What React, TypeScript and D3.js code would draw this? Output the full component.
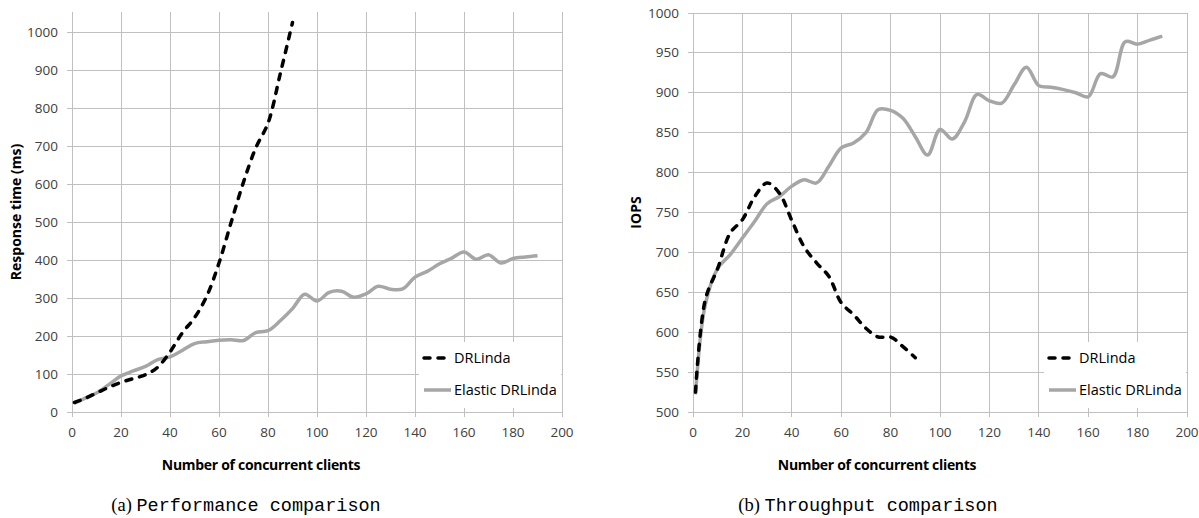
import * as d3 from "d3";
import { useEffect, useRef } from "react";

// clients on the x axis
const clientsDR = [1, 5, 10, 15, 20, 25, 30, 35, 40, 45, 50, 55, 60, 65, 70, 75, 80, 85, 90];
const clientsElastic = [
    1, 5, 10, 15, 20, 25, 30, 35, 40, 45, 50, 55, 60, 65, 70, 75, 80, 85, 90, 95,
    100, 105, 110, 115, 120, 125, 130, 135, 140, 145, 150, 155, 160, 165, 170, 175, 180, 185, 190
];

// (a) response time, ms
const responseDR = [25, 35, 50, 65, 78, 88, 98, 118, 158, 208, 248, 305, 392, 500, 605, 695, 760, 890, 1025];
const responseElastic = [
    23, 35, 50, 72, 95, 108, 120, 138, 145, 162, 180, 185, 189, 190, 188, 209, 214, 240, 272, 310,
    292, 315, 318, 302, 311, 331, 323, 324, 355, 370, 390, 405, 421, 402, 414, 392, 404, 408, 411
];

// (b) throughput, IOPS
const iopsDR = [525, 641, 680, 724, 741, 770, 787, 774, 740, 707, 687, 670, 637, 622, 605, 594, 594, 582, 568];
const iopsElastic = [
    522, 635, 680, 697, 718, 739, 761, 770, 783, 791, 787, 808, 831, 837, 850, 879, 878, 868, 845, 822,
    854, 842, 864, 898, 890, 887, 910, 932, 909, 907, 904, 900, 895, 924, 920, 964, 961, 966, 971
];

const seriesNames = ["DRLinda", "Elastic DRLinda"];

const GRID = "#c0c0c0";
const GREY = "#a6a6a6";
const TEXT = "#404040";
const FONT = "'Open Sans', 'Noto Sans', sans-serif";

const Panel = (props) => {
    const ref = useRef(null);

    useEffect(() => {
        const g = d3.select(ref.current);
        g.selectAll("*").remove();

        const { left, right, top, bottom, yTop } = props.box;
        const x = d3.scaleLinear().domain([0, 200]).range([left, right]);
        const y = d3.scaleLinear().domain(props.yDomain).range([bottom, yTop]);

        // сетка
        const xTicks = x.ticks(10);
        const yTicks = y.ticks(10);

        g.append("g")
            .selectAll("line")
            .data(yTicks)
            .enter()
            .append("line")
            .attr("x1", left - 5)
            .attr("x2", right)
            .attr("y1", d => y(d))
            .attr("y2", d => y(d))
            .attr("stroke", GRID)
            .attr("stroke-width", 1)
            .attr("shape-rendering", "crispEdges");

        g.append("g")
            .selectAll("line")
            .data(xTicks)
            .enter()
            .append("line")
            .attr("x1", d => x(d))
            .attr("x2", d => x(d))
            .attr("y1", bottom + 5)
            .attr("y2", top)
            .attr("stroke", GRID)
            .attr("stroke-width", 1)
            .attr("shape-rendering", "crispEdges");

        // подписи осей
        g.append("g")
            .selectAll("text")
            .data(yTicks)
            .enter()
            .append("text")
            .attr("x", props.yLabelX)
            .attr("y", d => y(d) + 4.5)
            .attr("text-anchor", "end")
            .attr("font-family", FONT)
            .attr("font-size", 13.5)
            .attr("fill", TEXT)
            .text(d => d);

        g.append("g")
            .selectAll("text")
            .data(xTicks)
            .enter()
            .append("text")
            .attr("x", d => x(d))
            .attr("y", bottom + 25)
            .attr("text-anchor", "middle")
            .attr("font-family", FONT)
            .attr("font-size", 13.5)
            .attr("fill", TEXT)
            .text(d => d);

        g.append("text")
            .attr("transform", `translate(${props.yTitleX}, ${(top + bottom) / 2}) rotate(-90)`)
            .attr("text-anchor", "middle")
            .attr("font-family", FONT)
            .attr("font-weight", "bold")
            .attr("font-size", 14)
            .attr("fill", "#000")
            .text(props.yTitle);

        g.append("text")
            .attr("x", props.xTitleX)
            .attr("y", 470)
            .attr("text-anchor", "middle")
            .attr("font-family", FONT)
            .attr("font-weight", "bold")
            .attr("font-size", 14)
            .attr("letter-spacing", -0.3)
            .attr("fill", "#000")
            .text("Number of concurrent clients");

        // линии
        const line = d3.line()
            .x(d => x(d[0]))
            .y(d => y(d[1]))
            .curve(d3.curveCatmullRom.alpha(0.5));

        g.append("path")
            .attr("d", line(d3.zip(clientsElastic, props.elastic)))
            .attr("fill", "none")
            .attr("stroke", GREY)
            .attr("stroke-width", 3.5)
            .attr("stroke-linejoin", "round");

        g.append("path")
            .attr("d", line(d3.zip(clientsDR, props.dr)))
            .attr("fill", "none")
            .attr("stroke", "#000")
            .attr("stroke-width", 3.5)
            .attr("stroke-dasharray", "6,8")
            .attr("stroke-linecap", "round");

        // легенда
        const lg = props.legend;
        const leg = g.append("g");
        leg.append("rect")
            .attr("x", lg.x)
            .attr("y", lg.y)
            .attr("width", right - 1 - lg.x)
            .attr("height", bottom - 4 - lg.y)
            .attr("fill", "#fff");

        seriesNames.forEach((name, i) => {
            const ly = lg.y + 16 + i * 32;
            leg.append("line")
                .attr("x1", lg.x + 5)
                .attr("x2", lg.x + 32)
                .attr("y1", ly)
                .attr("y2", ly)
                .attr("stroke", i === 0 ? "#000" : GREY)
                .attr("stroke-width", 3.5)
                .attr("stroke-dasharray", i === 0 ? "6,8" : null)
                .attr("stroke-linecap", i === 0 ? "round" : "butt");
            leg.append("text")
                .attr("x", lg.x + 35)
                .attr("y", ly + 5)
                .attr("font-family", FONT)
                .attr("font-size", 14.5)
                .attr("fill", "#000")
                .text(name);
        });

        // подпись под графиком
        const cap = g.append("text")
            .attr("x", props.captionX)
            .attr("y", 511)
            .attr("text-anchor", "middle")
            .attr("font-size", 18.5)
            .attr("fill", "#000");
        cap.append("tspan")
            .attr("font-family", "'Liberation Serif', serif")
            .text(props.captionTag + " ");
        cap.append("tspan")
            .attr("font-family", "'Liberation Mono', monospace")
            .text(props.caption);
    }, [props]);

    return <g ref={ref} />;
};

export default function App() {
    return (
        <svg width={1199} height={518} style={{ position: "absolute", left: 0, top: 0, background: "#fff" }}>
            <Panel
                box={{ left: 72, right: 562, top: 12, bottom: 412, yTop: 32 }}
                yDomain={[0, 1000]}
                yLabelX={58}
                yTitle="Response time (ms)"
                yTitleX={21}
                xTitleX={261}
                dr={responseDR}
                elastic={responseElastic}
                legend={{ x: 419, y: 342 }}
                captionX={246}
                captionTag="(a)"
                caption="Performance comparison"
            />
            <Panel
                box={{ left: 693, right: 1187, top: 13, bottom: 412, yTop: 13 }}
                yDomain={[500, 1000]}
                yLabelX={679}
                yTitle="IOPS"
                yTitleX={641}
                xTitleX={877}
                dr={iopsDR}
                elastic={iopsElastic}
                legend={{ x: 1044, y: 342 }}
                captionX={868}
                captionTag="(b)"
                caption="Throughput comparison"
            />
        </svg>
    );
}
